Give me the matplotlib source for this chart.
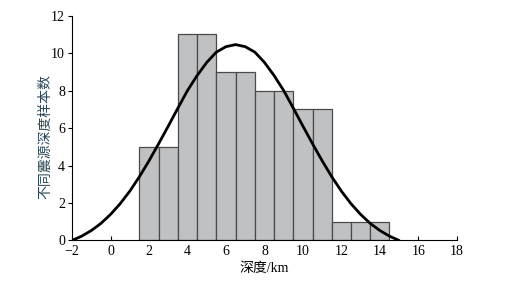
import numpy as np
import matplotlib.pyplot as plt

# 直方图数据 (bin 中心, 样本数)
depth_bins = [2, 3, 4, 5, 6, 7, 8, 9, 10, 11, 12, 13, 14]
counts = [5, 5, 11, 11, 9, 9, 8, 8, 7, 7, 1, 1, 1]

# 拟合曲线
curve_x = [-2, -1.5, -1, -0.5, 0, 0.5, 1, 1.5, 2, 2.5, 3, 3.5, 4, 4.5, 5, 5.5, 6, 6.5,
           7, 7.5, 8, 8.5, 9, 9.5, 10, 10.5, 11, 11.5, 12, 12.5, 13, 13.5, 14, 14.5, 15]
curve_y = [0.0, 0.23, 0.53, 0.91, 1.39, 1.96, 2.63, 3.4, 4.25, 5.16, 6.1, 7.06, 8.0, 8.8, 9.5, 10.05, 10.34, 10.45,
           10.34, 10.05, 9.5, 8.8, 8.0, 7.06, 6.1, 5.16, 4.25, 3.4, 2.63, 1.96, 1.39, 0.91, 0.53, 0.23, 0.0]

xticks = [-2, 0, 2, 4, 6, 8, 10, 12, 14, 16, 18]
yticks = [0, 2, 4, 6, 8, 10, 12]

serif = ['Liberation Serif', 'DejaVu Serif']

fig = plt.figure(figsize=(5.11, 2.88), dpi=100)
ax = fig.add_axes([0.141, 0.165, 0.753, 0.781])

ax.bar(depth_bins, counts, width=1.0, color='#c0c1c3', edgecolor='#4a4a4a', linewidth=0.9, zorder=2)
ax.plot(curve_x, curve_y, color='black', linewidth=2.0, zorder=3,
        solid_joinstyle='round', solid_capstyle='round')

ax.set_xlim(-2, 18)
ax.set_ylim(0, 12)
ax.set_xticks(xticks)
ax.set_yticks(yticks)
ax.spines['top'].set_visible(False)
ax.spines['right'].set_visible(False)
ax.tick_params(axis='x', direction='in', length=3, pad=3)
ax.tick_params(axis='y', direction='out', length=3, pad=2)
for lab in ax.get_xticklabels() + ax.get_yticklabels():
    lab.set_family(serif)
    lab.set_fontsize(10)

ax.set_xlabel('深度/km', family=['Liberation Serif', 'Noto Sans CJK SC'], fontsize=10, labelpad=3)
ax.set_ylabel('不同震源深度样本数', family=['Noto Sans CJK SC', 'DejaVu Sans'], fontsize=10,
              color='#2a4656')
ax.yaxis.set_label_coords(-0.052, 0.46)

plt.savefig('out.png', dpi=100)
